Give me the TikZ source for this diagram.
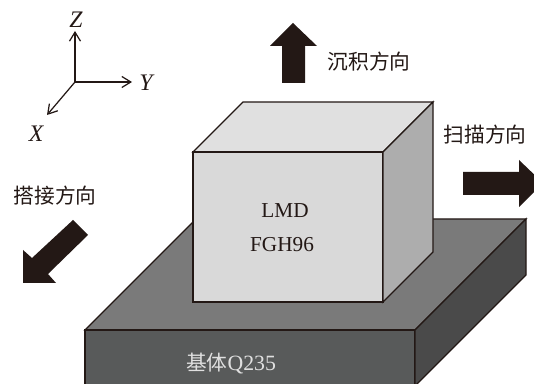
\documentclass[tikz,border=0pt]{standalone}
\usepackage{fontspec}
\setmainfont{Liberation Serif}
\newfontfamily\cjk{Noto Sans CJK SC}
\usetikzlibrary{arrows.meta}

\begin{document}
\begin{tikzpicture}[
    x=0.02cm,
    y=-0.02cm,
    font=\fontsize{12.1pt}{14pt}\selectfont,
]

\definecolor{lineCol}{RGB}{35, 24, 21}
\definecolor{cubeTopCol}{RGB}{224, 224, 224}
\definecolor{cubeFrontCol}{RGB}{217, 217, 217}
\definecolor{cubeSideCol}{RGB}{173, 173, 173}
\definecolor{plateTopCol}{RGB}{122, 122, 122}
\definecolor{plateFrontCol}{RGB}{88, 90, 90}
\definecolor{plateSideCol}{RGB}{74, 74, 74}

\tikzset{
    face/.style = {draw=lineCol, line width=0.8pt, line join=miter},
    axis_line/.style = {draw=lineCol, line width=0.7pt, -{Straight Barb[length=1.8mm, width=2.2mm]}},
    axis_label/.style = {text=lineCol, inner sep=0pt, font=\fontsize{13.5pt}{15pt}\selectfont\itshape},
    dir_arrow/.style = {fill=lineCol, draw=none},
    dir_label/.style = {text=lineCol, inner sep=0pt, font=\fontsize{11.8pt}{14pt}\selectfont\cjk},
    body_label/.style = {text=lineCol, inner sep=0pt},
}

\clip (0, 0) rectangle (534, 384);
\fill[white] (0, 0) rectangle (534, 384);

% =========== AXES ===========
\coordinate (origin) at (75, 82);
\coordinate (z_tip) at (75, 31);
\coordinate (y_tip) at (132, 82);
\coordinate (x_tip) at (47, 115);

\node[axis_label] (z_label) at (76, 20) {Z};
\node[axis_label] (y_label) at (146, 83) {Y};
\node[axis_label] (x_label) at (36, 134) {X};

\draw[axis_line] (origin) -- (z_tip);
\draw[axis_line] (origin) -- (y_tip);
\draw[axis_line] (origin) -- (x_tip);

% =========== SUBSTRATE ===========
\fill[face, fill=plateTopCol] (85, 330) -- (196, 219) -- (526, 219) -- (415, 330) -- cycle;
\fill[face, fill=plateFrontCol] (85, 330) rectangle (415, 400);
\fill[face, fill=plateSideCol] (415, 330) -- (526, 219) -- (526, 275) -- (415, 386) -- cycle;

\node[dir_label, text=cubeTopCol] (base_label) at (231, 364) {基体{\fontspec{Liberation Serif}\fontsize{12.4pt}{14pt}\selectfont Q235}};

% =========== DEPOSIT ===========
\fill[face, fill=cubeTopCol] (193, 152) -- (243, 102) -- (433, 102) -- (383, 152) -- cycle;
\fill[face, fill=cubeFrontCol] (193, 152) rectangle (383, 302);
\fill[face, fill=cubeSideCol] (383, 152) -- (433, 102) -- (433, 252) -- (383, 302) -- cycle;

\node[body_label] (lmd_label) at (285, 211) {LMD};
\node[body_label] (fgh_label) at (282, 245) {FGH96};

% =========== DIRECTIONS ===========
\fill[dir_arrow] (293, 23) -- (317, 46) -- (305, 46) -- (305, 83) -- (282, 83) -- (282, 46) -- (270, 46) -- cycle;
\node[dir_label] (build_label) at (369, 62) {沉积方向};

\fill[dir_arrow] (463, 172) -- (519, 172) -- (519, 160) -- (543, 183) -- (519, 207) -- (519, 195) -- (463, 195) -- cycle;
\node[dir_label] (scan_label) at (485, 135) {扫描方向};

\fill[dir_arrow] (23, 283) -- (23, 250) -- (32, 258) -- (73, 220) -- (88, 235) -- (48, 274) -- (56, 283) -- cycle;
\node[dir_label] (lap_label) at (55, 196) {搭接方向};

\end{tikzpicture}
\end{document}
